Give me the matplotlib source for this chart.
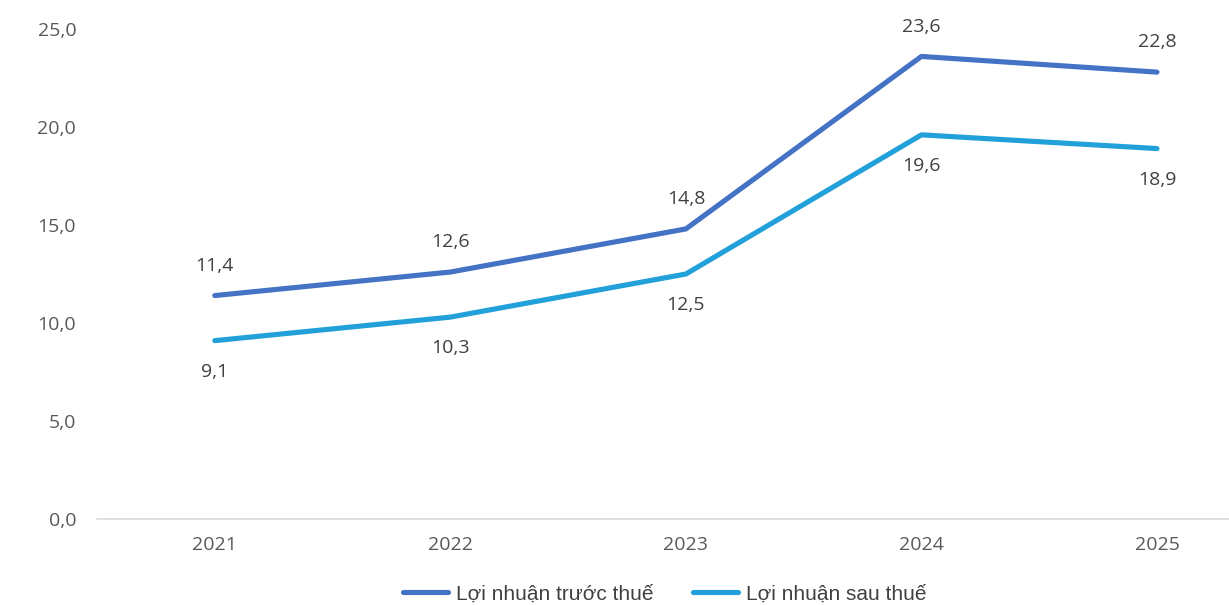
import matplotlib
matplotlib.use("Agg")
import matplotlib.pyplot as plt

years = ["2021", "2022", "2023", "2024", "2025"]
pre_tax = [11.4, 12.6, 14.8, 23.6, 22.8]
post_tax = [9.1, 10.3, 12.5, 19.6, 18.9]
yticks = [0, 5, 10, 15, 20, 25]
series_names = ["Lợi nhuận trước thuế", "Lợi nhuận sau thuế"]

W, H = 1229, 605
fig = plt.figure(figsize=(W / 100, H / 100), dpi=100)
ax = fig.add_axes([97 / W, (H - 519) / H, 1 - 97 / W, (519 - 29) / H])

x = list(range(len(years)))
c1, c2 = "#4472C4", "#22A0DA"
ax.plot(x, pre_tax, color=c1, lw=3.7, solid_capstyle="round", solid_joinstyle="round", label=series_names[0], zorder=3)
ax.plot(x, post_tax, color=c2, lw=3.7, solid_capstyle="round", solid_joinstyle="round", label=series_names[1], zorder=3)

lab_font = dict(fontsize=14, color="#404040", family="Open Sans", ha="center", va="center")
for xi, v in zip(x, pre_tax):
    ax.annotate(f"{v:.1f}".replace(".", ","), (xi, v), xytext=(0, 21.5), textcoords="offset points", **lab_font)
for xi, v in zip(x, post_tax):
    ax.annotate(f"{v:.1f}".replace(".", ","), (xi, v), xytext=(0, -22.5), textcoords="offset points", **lab_font)

ax.set_xlim(-0.5, (1229 - 215) / 235.5)
ax.set_ylim(0, 25)
ax.set_yticks(yticks)
ax.set_yticklabels([f"{t:.1f}".replace(".", ",") for t in yticks], fontsize=14, color="#595959", family="Open Sans")
ax.set_xticks(x)
ax.set_xticklabels(years, fontsize=14, color="#595959", family="Open Sans")
ax.tick_params(axis="both", length=0)
ax.tick_params(axis="y", pad=15)
ax.tick_params(axis="x", pad=12)
for s in ["top", "right", "left"]:
    ax.spines[s].set_visible(False)
ax.spines["bottom"].set_color("#D9D9D9")
ax.spines["bottom"].set_linewidth(1.2)
ax.patch.set_alpha(0)

leg = fig.legend(loc="center", bbox_to_anchor=(665 / W, 11 / H), ncol=2, frameon=False,
                 prop={"family": "Liberation Sans", "size": 15}, handlelength=2.15,
                 handletextpad=0.38, columnspacing=1.9, labelcolor="#404040")

fig.savefig("out.png", dpi=100)
